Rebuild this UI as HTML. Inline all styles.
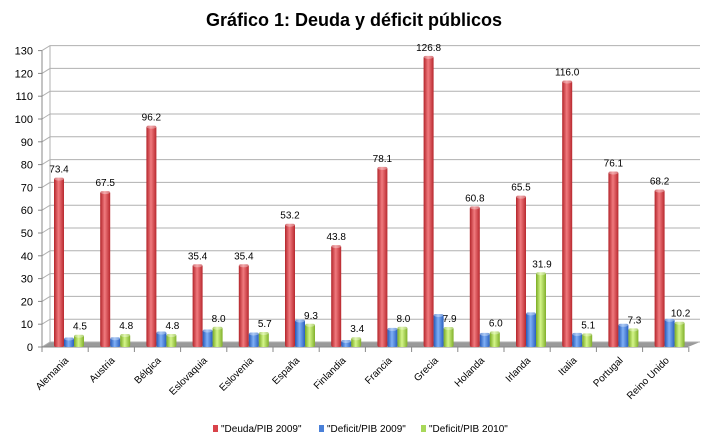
<!DOCTYPE html>
<html><head><meta charset="utf-8"><style>
body{margin:0;background:#fff;font-family:"Liberation Sans",sans-serif}
svg text{font-family:"Liberation Sans",sans-serif}
</style></head><body>
<svg width="709" height="439" viewBox="0 0 709 439">
<defs>
<linearGradient id="gr" x1="0" x2="1"><stop offset="0" stop-color="#b3242a"/><stop offset="0.45" stop-color="#f07a7e"/><stop offset="1" stop-color="#b8282e"/></linearGradient>
<linearGradient id="gb" x1="0" x2="1"><stop offset="0" stop-color="#2458b8"/><stop offset="0.45" stop-color="#7fb0f5"/><stop offset="1" stop-color="#2a5fc0"/></linearGradient>
<linearGradient id="gg" x1="0" x2="1"><stop offset="0" stop-color="#7aab22"/><stop offset="0.45" stop-color="#d4f58a"/><stop offset="1" stop-color="#80b02a"/></linearGradient>
</defs>
<text x="354" y="26" text-anchor="middle" font-size="18" font-weight="bold">Gráfico 1: Deuda y déficit públicos</text>
<g id="grid"></g><g id="bars"></g><g id="labels"></g>
<g font-size="10">
<rect x="213" y="425" width="5" height="7" fill="#d9434a"/>
<text x="221" y="432">"Deuda/PIB 2009"</text>
<rect x="319" y="425" width="5" height="7" fill="#4a80d8"/>
<text x="327" y="432">"Deficit/PIB 2009"</text>
<rect x="421" y="425" width="5" height="7" fill="#a8d85a"/>
<text x="429" y="432">"Deficit/PIB 2010"</text>
</g>
</svg>
<script>
const categories=["Alemania","Austria","Bélgica","Eslovaquia","Eslovenia","España","Finlandia","Francia","Grecia","Holanda","Irlanda","Italia","Portugal","Reino Unido"];
const deuda2009=[73.4,67.5,96.2,35.4,35.4,53.2,43.8,78.1,126.8,60.8,65.5,116.0,76.1,68.2];
const deficit2009=[3.3,3.4,5.9,6.8,5.5,11.2,2.2,7.5,13.6,5.3,14.3,5.3,9.3,11.5];
const deficit2010=[4.5,4.8,4.8,8.0,5.7,9.3,3.4,8.0,7.9,6.0,31.9,5.1,7.3,10.2];
const yTicks=[0,10,20,30,40,50,60,70,80,90,100,110,120,130];
const NS="http://www.w3.org/2000/svg";
const x0=42,y0=347,dx=8,dy=5,step=46.2,xEnd=688;
function y(v){return y0-v*2.28;}
function xc(i){return x0+i*step;}
function mk(p,tag,a){const e=document.createElementNS(NS,tag);for(const k in a)e.setAttribute(k,a[k]);p.appendChild(e);return e;}
const grid=document.getElementById('grid'),bars=document.getElementById('bars'),labels=document.getElementById('labels');
const fl=mk(grid,'polygon',{points:`${x0},${y0} ${xEnd},${y0} ${xEnd+dx+4},${y0-dy} ${x0+dx},${y0-dy}`,fill:'#9a9a9a'});


yTicks.forEach(t=>{
  const g=mk(grid,'polyline',{points:`${x0},${y(t)} ${x0+dx},${y(t)-dy} ${xEnd+12},${y(t)-dy}`,fill:'none',stroke:'#b0b0b0','stroke-width':1});
  
  
  mk(grid,'line',{x1:x0-4,x2:x0,y1:y(t),y2:y(t),stroke:'#888'});
  const tx=mk(grid,'text',{x:x0-9,y:y(t)+4,'text-anchor':'end','font-size':11});
  tx.textContent=t;
  
  
});
mk(grid,'line',{x1:x0,x2:x0,y1:y(130),y2:y0,stroke:'#888'});
mk(grid,'line',{x1:x0,x2:xEnd,y1:y0,y2:y0,stroke:'#888'});
mk(grid,'line',{x1:x0+dx,x2:x0+dx,y1:y(130)-dy,y2:y0-dy,stroke:'#b0b0b0'});
for(let i=0;i<=categories.length;i++)mk(grid,'line',{x1:xc(i),x2:xc(i),y1:y0,y2:y0+5,stroke:'#888'});
function bar(i,off,v,fill,name){
  const bx=xc(i)+off,w=10,top=y(v)-2;
  const r=mk(bars,'rect',{x:bx,y:top,width:w,height:Math.max(0,y0-top),fill:fill,rx:2});
  
  
  mk(bars,'ellipse',{cx:bx+w/2,cy:top+1,rx:w/2,ry:2,fill:'#fff','fill-opacity':0.35});
  return bx+w/2;
}
categories.forEach((c,i)=>{
  const cr=bar(i,12,deuda2009[i],'url(#gr)','bar-deuda-2009');
  bar(i,22,deficit2009[i],'url(#gb)','bar-deficit-2009');
  const cg=bar(i,32,deficit2010[i],'url(#gg)','bar-deficit-2010');
  let t=mk(labels,'text',{x:cr,y:y(deuda2009[i])-7,'text-anchor':'middle','font-size':10});
  t.textContent=deuda2009[i].toFixed(1);
  
  
  t=mk(labels,'text',{x:cg+1,y:y(deficit2010[i])-7,'text-anchor':'middle','font-size':10});
  t.textContent=deficit2010[i].toFixed(1);
  
  
  const lx=xc(i)+step/2+4,ly=y0+14;
  t=mk(labels,'text',{x:lx,y:ly,'text-anchor':'end','font-size':10,transform:`rotate(-45 ${lx} ${ly})`});
  t.textContent=c;
  
  
});
</script>
</body></html>
